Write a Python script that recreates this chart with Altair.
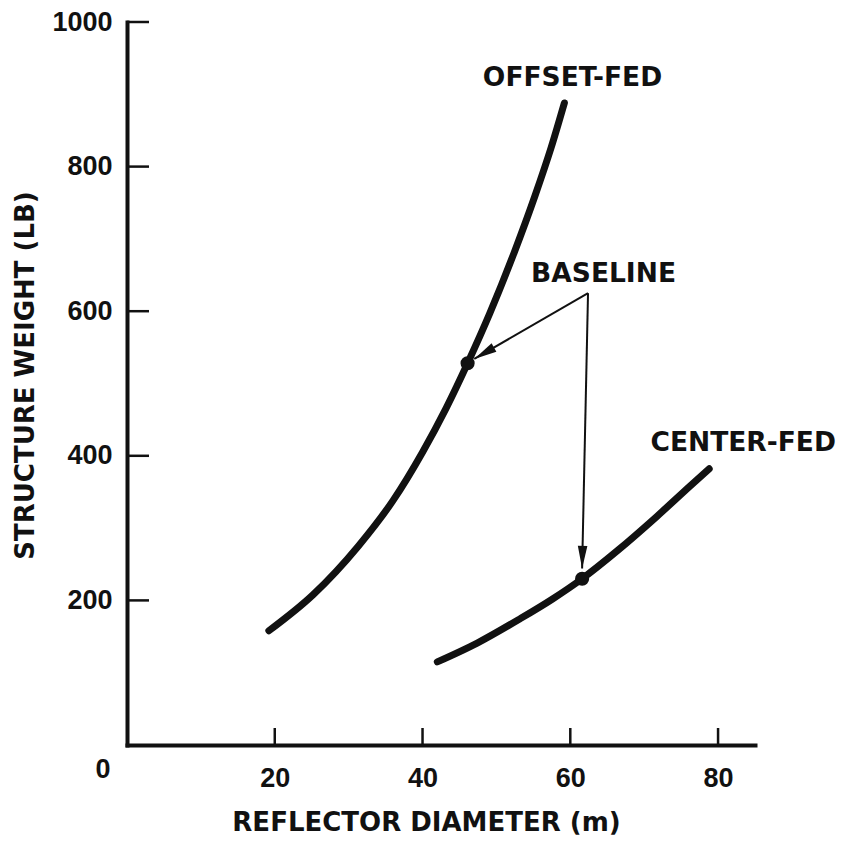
import math
import altair as alt
import pandas as pd

# ---- data -------------------------------------------------------------
offset_x = [19.2, 25.2, 31.3, 36.0, 40.0, 43.2, 46.1, 49.1, 52.4, 55.2, 57.4, 59.2]
offset_y = [158, 208, 275, 338, 405, 466, 528, 597, 681, 759, 826, 888]

center_x = [42.0, 47.4, 53.1, 57.6, 61.6, 66.4, 71.7, 76.2, 78.8]
center_y = [115, 141, 174, 202, 230, 269, 316, 358, 382]

baseline_x = [46.1, 61.6]
baseline_y = [528, 230]

arrow_from_x = [62.4, 62.4]
arrow_from_y = [625, 625]
arrow_to_x = [47.0, 61.6]
arrow_to_y = [534, 244]

label_text = ["OFFSET-FED", "CENTER-FED", "BASELINE"]
label_x = [60.3, 83.4, 64.5]
label_y = [922, 418, 652]

x_ticks = [20, 40, 60, 80]
y_ticks = [200, 400, 600, 800, 1000]
x_max = 85
y_max = 1000

# ---- layout -----------------------------------------------------------
W, H = 628, 723
INK = "#111111"
px_x = W / x_max
px_y = H / y_max

curves = pd.DataFrame(
    {"x": offset_x + center_x,
     "y": offset_y + center_y,
     "series": ["OFFSET-FED"] * len(offset_x) + ["CENTER-FED"] * len(center_x)}
)
points = pd.DataFrame({"x": baseline_x, "y": baseline_y})

angles = []
for fx, fy, tx, ty in zip(arrow_from_x, arrow_from_y, arrow_to_x, arrow_to_y):
    dxp = (tx - fx) * px_x
    dyp = -(ty - fy) * px_y
    angles.append(math.degrees(math.atan2(dxp, -dyp)) % 360)
arrows = pd.DataFrame({"x": arrow_from_x, "y": arrow_from_y,
                       "x2": arrow_to_x, "y2": arrow_to_y})
heads = pd.DataFrame({"x": arrow_to_x, "y": arrow_to_y, "angle": angles})
labels = pd.DataFrame({"x": label_x, "y": label_y, "text": label_text})
xt = pd.DataFrame({"x": x_ticks, "y": [0] * len(x_ticks)})
yt = pd.DataFrame({"x": [0] * len(y_ticks), "y": y_ticks})
origin = pd.DataFrame({"x": [0], "y": [0], "text": ["0"]})

xscale = alt.Scale(domain=[0, x_max], nice=False, zero=False)
yscale = alt.Scale(domain=[0, y_max], nice=False, zero=False)

xaxis = alt.Axis(
    values=x_ticks, format="d", title="REFLECTOR DIAMETER (m)", grid=False, ticks=False, tickSize=0,
    labelFont="Liberation Sans", labelFontSize=27, labelFontWeight="bold", labelColor=INK,
    labelPadding=20, labelFlush=False, labelOverlap=False,
    domainColor=INK, domainWidth=4, domainCap="square",
    titleFont="DejaVu Sans", titleFontSize=26, titleFontWeight="bold", titleColor=INK,
    titleX=299, titleY=85, titleAlign="center", titleBaseline="alphabetic",
)
yaxis = alt.Axis(
    values=y_ticks, format="d", title="STRUCTURE WEIGHT (LB)", grid=False, ticks=False, tickSize=0,
    labelFont="Liberation Sans", labelFontSize=27, labelFontWeight="bold", labelColor=INK,
    labelPadding=15, labelFlush=False, labelOverlap=False, labelBaseline="middle",
    domainColor=INK, domainWidth=4, domainCap="square",
    titleFont="DejaVu Sans", titleFontSize=26, titleFontWeight="bold", titleColor=INK,
    titleAngle=270, titleX=-102, titleY=353, titleAlign="center", titleBaseline="middle",
)


def X(f="x"):
    return alt.X(f, type="quantitative", scale=xscale, axis=xaxis)


def Y(f="y"):
    return alt.Y(f, type="quantitative", scale=yscale, axis=yaxis)


lines = alt.Chart(curves).mark_line(
    color=INK, strokeWidth=7, strokeCap="round", strokeJoin="round", interpolate="monotone"
).encode(x=X(), y=Y(), detail="series:N")

dots = alt.Chart(points).mark_circle(color=INK, size=200, opacity=1).encode(x=X(), y=Y())

arrow_lines = alt.Chart(arrows).mark_rule(color=INK, strokeWidth=2).encode(
    x=X(), y=Y(), x2="x2:Q", y2="y2:Q"
)

arrow_heads = alt.Chart(heads).mark_point(
    shape="M0,0L0.42,2L-0.42,2Z", filled=True, color=INK, opacity=1, size=520, strokeWidth=0
).encode(x=X(), y=Y(), angle=alt.Angle("angle:Q", scale=None))

texts = alt.Chart(labels).mark_text(
    font="DejaVu Sans", fontSize=26.5, fontWeight="bold", color=INK,
    align="center", baseline="middle"
).encode(x=X(), y=Y(), text="text:N")

# inward tick marks (length given in pixels)
x_tick_marks = alt.Chart(xt).mark_rule(color=INK, strokeWidth=2.5).encode(
    x=X(), y=Y(), y2=alt.value(H - 17)
)
y_tick_marks = alt.Chart(yt).mark_rule(color=INK, strokeWidth=2.5).encode(
    x=X(), y=Y(), x2=alt.value(22)
)

zero_label = alt.Chart(origin).mark_text(
    font="Liberation Sans", fontSize=27, fontWeight="bold", color=INK,
    align="center", baseline="middle", dx=-24, dy=25
).encode(x=X(), y=Y(), text="text:N")

chart = alt.layer(
    lines, dots, arrow_lines, arrow_heads, texts, x_tick_marks, y_tick_marks, zero_label
).properties(
    width=W, height=H,
    padding={"left": 119, "top": 14, "right": 91, "bottom": 92},
    autosize=alt.AutoSizeParams(type="none"),
    background="white",
).configure_view(stroke=None)

chart.save("out.html", embed_options={"renderer": "svg", "actions": False})
